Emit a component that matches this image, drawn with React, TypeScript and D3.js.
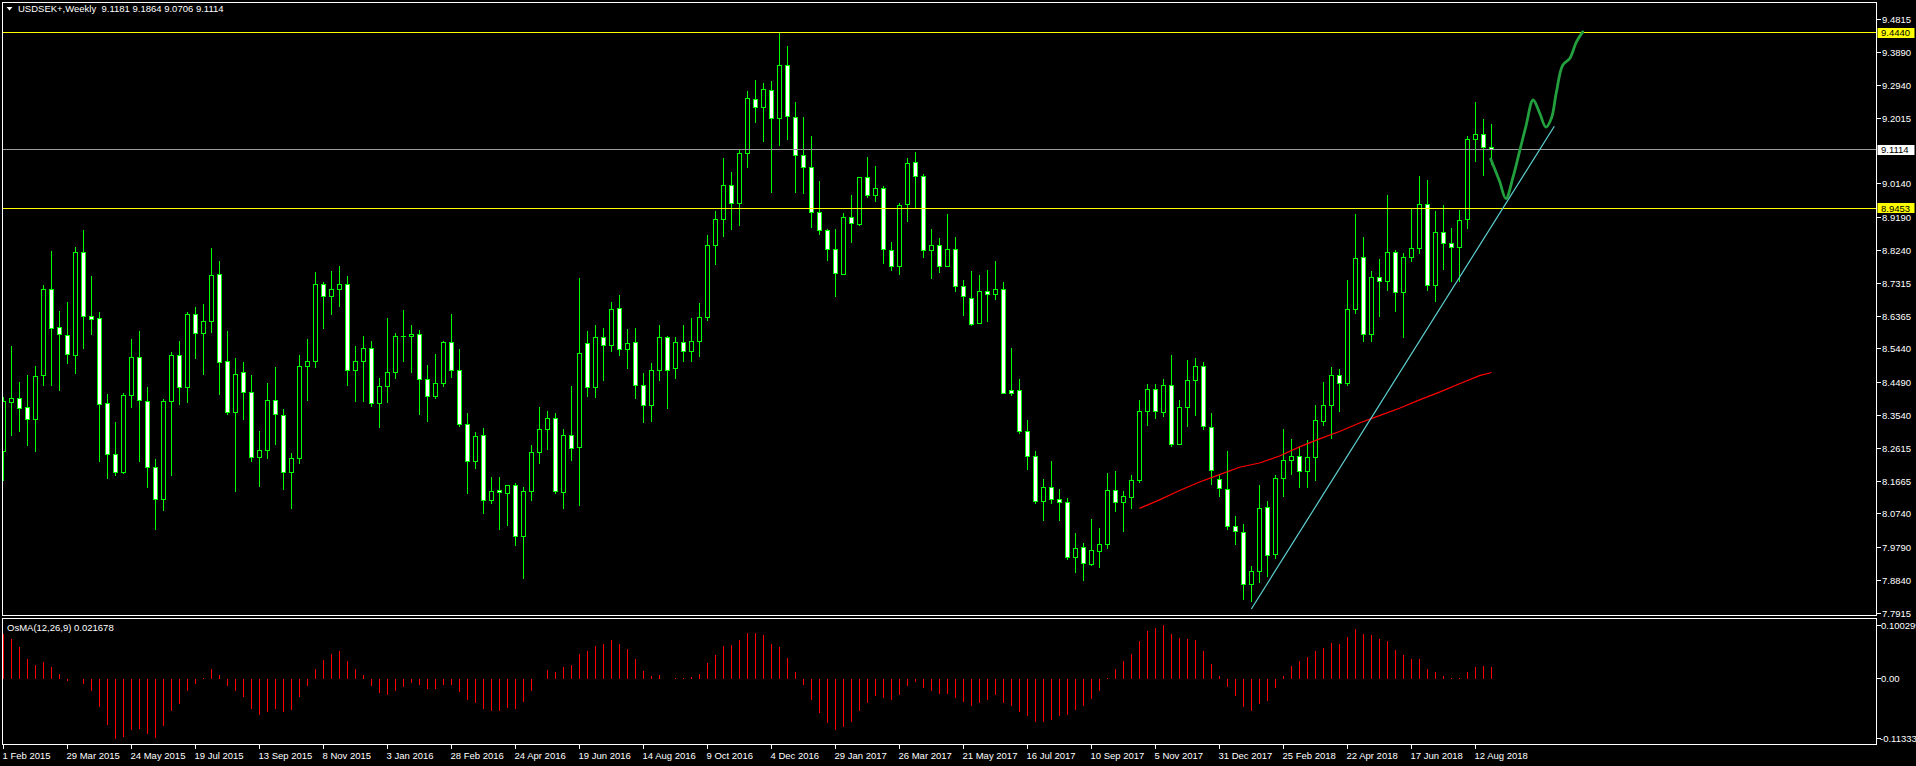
import React, { useEffect } from "react";
import * as d3 from "d3";

const titleText = "USDSEK+,Weekly  9.1181 9.1864 9.0706 9.1114";
const osmaTitle = "OsMA(12,26,9) 0.021678";

const dateLabels = [
  "1 Feb 2015", "29 Mar 2015", "24 May 2015", "19 Jul 2015", "13 Sep 2015", "8 Nov 2015",
  "3 Jan 2016", "28 Feb 2016", "24 Apr 2016", "19 Jun 2016", "14 Aug 2016", "9 Oct 2016",
  "4 Dec 2016", "29 Jan 2017", "26 Mar 2017", "21 May 2017", "16 Jul 2017", "10 Sep 2017",
  "5 Nov 2017", "31 Dec 2017", "25 Feb 2018", "22 Apr 2018", "17 Jun 2018", "12 Aug 2018",
];

const priceTicks = [
  9.4815, 9.389, 9.294, 9.2015, 9.014, 8.919, 8.824, 8.7315, 8.6365, 8.544,
  8.449, 8.354, 8.2615, 8.1665, 8.074, 7.979, 7.884, 7.7915,
];

const osmaTicks = [0.100299, 0, -0.11333];
const osmaTickText = ["0.100299", "0.00", "-0.11333"];

const yellowLevels = [9.444, 8.9453];
const bidLevel = 9.1114;

const opens = [
  8.253, 8.392, 8.403, 8.378, 8.344, 8.467, 8.713, 8.605, 8.583, 8.525,
  8.819, 8.636, 8.632, 8.390, 8.243, 8.193, 8.411, 8.520, 8.394, 8.205,
  8.114, 8.393, 8.526, 8.435, 8.641, 8.589, 8.622, 8.756, 8.507, 8.363,
  8.476, 8.421, 8.236, 8.255, 8.398, 8.355, 8.191, 8.233, 8.495, 8.507,
  8.728, 8.694, 8.713, 8.728, 8.483, 8.509, 8.545, 8.390, 8.438, 8.477,
  8.580, 8.579, 8.585, 8.458, 8.409, 8.446, 8.563, 8.483, 8.330, 8.224,
  8.298, 8.112, 8.140, 8.133, 8.156, 8.011, 8.139, 8.249, 8.315, 8.346,
  8.136, 8.298, 8.264, 8.560, 8.435, 8.576, 8.555, 8.659, 8.543, 8.562,
  8.440, 8.383, 8.483, 8.576, 8.488, 8.562, 8.538, 8.566, 8.634, 8.839,
  8.913, 9.009, 8.959, 9.102, 9.255, 9.232, 9.280, 9.199, 9.352, 9.203,
  9.096, 9.061, 8.933, 8.882, 8.827, 8.756, 8.918, 8.899, 9.032, 8.982,
  9.001, 8.823, 8.780, 8.954, 9.075, 9.036, 8.825, 8.839, 8.780, 8.827,
  8.723, 8.689, 8.616, 8.708, 8.699, 8.713, 8.426, 8.426, 8.309, 8.238,
  8.109, 8.150, 8.115, 8.107, 7.950, 7.978, 7.931, 7.967, 7.987, 8.141,
  8.107, 8.121, 8.170, 8.366, 8.429, 8.364, 8.440, 8.272, 8.378, 8.454,
  8.494, 8.321, 8.173, 8.144, 8.038, 8.022, 7.872, 7.910, 8.092, 7.958,
  8.175, 8.227, 8.239, 8.195, 8.235, 8.338, 8.383, 8.467, 8.446, 8.657,
  8.804, 8.585, 8.748, 8.735, 8.819, 8.706, 8.804, 8.831, 8.955, 8.725,
  8.876, 8.845, 8.833, 8.912, 9.141, 9.155, 9.1181,
];

const highs = [
  8.408, 8.553, 8.450, 8.471, 8.497, 8.728, 8.825, 8.654, 8.678, 8.837,
  8.883, 8.754, 8.651, 8.417, 8.336, 8.421, 8.575, 8.596, 8.438, 8.231,
  8.404, 8.537, 8.569, 8.651, 8.665, 8.672, 8.834, 8.797, 8.596, 8.520,
  8.507, 8.470, 8.313, 8.447, 8.493, 8.373, 8.249, 8.527, 8.575, 8.764,
  8.737, 8.766, 8.783, 8.752, 8.555, 8.581, 8.569, 8.464, 8.633, 8.591,
  8.656, 8.615, 8.598, 8.501, 8.532, 8.567, 8.646, 8.544, 8.364, 8.310,
  8.319, 8.180, 8.182, 8.159, 8.163, 8.153, 8.271, 8.381, 8.370, 8.364,
  8.316, 8.441, 8.747, 8.596, 8.615, 8.604, 8.678, 8.698, 8.601, 8.604,
  8.478, 8.505, 8.615, 8.581, 8.579, 8.615, 8.633, 8.675, 8.871, 8.937,
  9.088, 9.048, 9.116, 9.281, 9.310, 9.302, 9.308, 9.447, 9.407, 9.248,
  9.205, 9.152, 9.025, 8.888, 8.886, 8.933, 8.985, 9.033, 9.091, 9.066,
  9.010, 8.851, 8.962, 9.088, 9.105, 9.045, 8.886, 8.861, 8.931, 8.865,
  8.741, 8.766, 8.755, 8.770, 8.797, 8.735, 8.547, 8.459, 8.342, 8.256,
  8.174, 8.225, 8.147, 8.122, 8.020, 7.992, 8.062, 8.035, 8.191, 8.197,
  8.140, 8.185, 8.399, 8.445, 8.445, 8.459, 8.527, 8.399, 8.515, 8.520,
  8.509, 8.362, 8.187, 8.254, 8.071, 8.048, 7.926, 8.157, 8.112, 8.186,
  8.316, 8.290, 8.267, 8.285, 8.385, 8.450, 8.495, 8.487, 8.741, 8.931,
  8.863, 8.766, 8.803, 8.985, 8.828, 8.819, 8.948, 9.037, 9.027, 8.937,
  8.954, 8.891, 8.940, 9.152, 9.248, 9.199, 9.1864,
];

const lows = [
  8.168, 8.297, 8.309, 8.270, 8.253, 8.441, 8.441, 8.426, 8.502, 8.475,
  8.545, 8.585, 8.223, 8.174, 8.183, 8.189, 8.378, 8.222, 8.150, 8.031,
  8.084, 8.183, 8.387, 8.392, 8.517, 8.471, 8.591, 8.414, 8.356, 8.138,
  8.342, 8.223, 8.151, 8.231, 8.272, 8.144, 8.090, 8.219, 8.397, 8.491,
  8.602, 8.641, 8.665, 8.440, 8.393, 8.393, 8.380, 8.320, 8.392, 8.460,
  8.507, 8.478, 8.357, 8.336, 8.404, 8.438, 8.463, 8.324, 8.132, 8.204,
  8.076, 8.103, 8.030, 8.040, 7.984, 7.890, 8.112, 8.218, 8.258, 8.133,
  8.090, 8.226, 8.098, 8.409, 8.405, 8.454, 8.537, 8.525, 8.488, 8.403,
  8.334, 8.337, 8.454, 8.374, 8.461, 8.507, 8.508, 8.523, 8.624, 8.784,
  8.864, 8.885, 8.895, 9.061, 9.189, 9.135, 8.989, 9.123, 9.140, 8.989,
  8.986, 8.889, 8.871, 8.795, 8.693, 8.756, 8.847, 8.896, 8.976, 8.964,
  8.786, 8.767, 8.756, 8.907, 8.943, 8.804, 8.744, 8.761, 8.780, 8.707,
  8.639, 8.612, 8.616, 8.621, 8.684, 8.418, 8.411, 8.303, 8.200, 8.104,
  8.054, 8.103, 8.054, 7.944, 7.908, 7.884, 7.926, 7.922, 7.977, 8.082,
  8.023, 8.090, 8.163, 8.326, 8.346, 8.351, 8.267, 8.272, 8.324, 8.355,
  8.315, 8.159, 8.123, 8.030, 7.987, 7.831, 7.824, 7.878, 7.896, 7.948,
  8.123, 8.186, 8.150, 8.150, 8.169, 8.327, 8.290, 8.366, 8.440, 8.645,
  8.565, 8.565, 8.636, 8.711, 8.651, 8.577, 8.792, 8.816, 8.711, 8.680,
  8.771, 8.736, 8.735, 8.887, 9.077, 9.038, 9.0706,
];

const closes = [
  8.393, 8.403, 8.375, 8.344, 8.466, 8.713, 8.601, 8.585, 8.527, 8.819,
  8.636, 8.629, 8.387, 8.243, 8.193, 8.412, 8.520, 8.396, 8.205, 8.114,
  8.393, 8.526, 8.435, 8.641, 8.589, 8.622, 8.754, 8.505, 8.363, 8.472,
  8.421, 8.236, 8.255, 8.398, 8.356, 8.191, 8.233, 8.494, 8.507, 8.728,
  8.694, 8.713, 8.728, 8.483, 8.509, 8.545, 8.390, 8.438, 8.477, 8.580,
  8.580, 8.585, 8.457, 8.409, 8.446, 8.563, 8.483, 8.330, 8.224, 8.295,
  8.112, 8.139, 8.134, 8.156, 8.011, 8.139, 8.249, 8.315, 8.346, 8.139,
  8.298, 8.261, 8.531, 8.433, 8.576, 8.555, 8.657, 8.543, 8.560, 8.441,
  8.383, 8.483, 8.576, 8.483, 8.562, 8.538, 8.566, 8.634, 8.839, 8.913,
  9.009, 8.959, 9.102, 9.257, 9.232, 9.284, 9.199, 9.352, 9.205, 9.096,
  9.062, 8.934, 8.882, 8.828, 8.760, 8.918, 8.900, 9.032, 8.980, 9.001,
  8.826, 8.780, 8.953, 9.073, 9.036, 8.825, 8.839, 8.780, 8.827, 8.723,
  8.692, 8.615, 8.708, 8.700, 8.712, 8.418, 8.418, 8.309, 8.237, 8.109,
  8.150, 8.116, 8.108, 7.950, 7.977, 7.932, 7.970, 7.988, 8.141, 8.107,
  8.125, 8.170, 8.367, 8.429, 8.366, 8.440, 8.272, 8.378, 8.454, 8.494,
  8.324, 8.199, 8.147, 8.037, 8.023, 7.872, 7.910, 8.090, 7.956, 8.175,
  8.227, 8.239, 8.195, 8.236, 8.339, 8.383, 8.469, 8.446, 8.657, 8.803,
  8.585, 8.748, 8.737, 8.819, 8.706, 8.804, 8.831, 8.955, 8.726, 8.876,
  8.845, 8.834, 8.910, 9.141, 9.155, 9.118, 9.1114,
];

const osma = [
  0.0847, 0.0753, 0.0603, 0.0370, 0.0264, 0.0314, 0.0220, 0.0088, -0.0050, -0.0010,
  -0.0094, -0.0232, -0.0534, -0.0866, -0.1130, -0.1092, -0.0960, -0.0942, -0.1036, -0.1117,
  -0.0885, -0.0609, -0.0471, -0.0232, -0.0094, 0.0013, 0.0182, 0.0069, -0.0132, -0.0232,
  -0.0345, -0.0571, -0.0678, -0.0621, -0.0571, -0.0621, -0.0590, -0.0345, -0.0132, 0.0182,
  0.0352, 0.0465, 0.0521, 0.0333, 0.0182, 0.0069, -0.0132, -0.0270, -0.0308, -0.0232,
  -0.0157, -0.0088, -0.0113, -0.0195, -0.0188, -0.0113, -0.0113, -0.0257, -0.0402, -0.0452,
  -0.0571, -0.0609, -0.0609, -0.0552, -0.0571, -0.0439, -0.0239, -0.0006, 0.0157, 0.0126,
  0.0220, 0.0257, 0.0465, 0.0521, 0.0615, 0.0653, 0.0728, 0.0653, 0.0565, 0.0370,
  0.0144, 0.0050, 0.0069, 0.0003, 0.0013, 0.0013, 0.0031, 0.0088, 0.0295, 0.0446,
  0.0621, 0.0634, 0.0728, 0.0860, 0.0860, 0.0822, 0.0653, 0.0596, 0.0389, 0.0126,
  -0.0113, -0.0402, -0.0647, -0.0835, -0.0967, -0.0910, -0.0816, -0.0609, -0.0458, -0.0326,
  -0.0364, -0.0402, -0.0308, -0.0132, -0.0063, -0.0176, -0.0232, -0.0282, -0.0289, -0.0364,
  -0.0439, -0.0515, -0.0458, -0.0402, -0.0308, -0.0458, -0.0515, -0.0628, -0.0703, -0.0816,
  -0.0816, -0.0778, -0.0703, -0.0684, -0.0590, -0.0515, -0.0383, -0.0232, 0.0013, 0.0182,
  0.0333, 0.0465, 0.0709, 0.0898, 0.0954, 0.1003, 0.0841, 0.0766, 0.0747, 0.0728,
  0.0521, 0.0276, 0.0050, -0.0157, -0.0326, -0.0534, -0.0609, -0.0477, -0.0421, -0.0176,
  0.0050, 0.0239, 0.0333, 0.0408, 0.0521, 0.0578, 0.0672, 0.0653, 0.0785, 0.0935,
  0.0841, 0.0822, 0.0747, 0.0709, 0.0540, 0.0446, 0.0370, 0.0370, 0.0182, 0.0126,
  0.0050, 0.0013, 0.0013, 0.0126, 0.0220, 0.0239, 0.021678,
];

// red moving-average-like line (bar index, price)
const maBars = [142, 144.5, 147, 149.5, 152, 154.5, 157, 159.5, 162, 164.5, 167, 169.5, 172, 174.5, 177, 179.5, 182, 184.5, 186];
const maValues = [8.09, 8.114, 8.141, 8.165, 8.186, 8.207, 8.219, 8.239, 8.265, 8.288, 8.309, 8.333, 8.354, 8.375, 8.399, 8.421, 8.445, 8.468, 8.477];

// cyan trend line
const trendBars = [155.98, 193.85];
const trendValues = [7.8034, 9.1782];

// green hand-drawn projection
const projBars = [185.9, 187.0, 187.8, 188.7, 189.5, 190.3, 191.2, 192.0, 192.8, 193.5, 194.1, 194.9, 195.8, 196.6, 197.4];
const projValues = [9.085, 9.022, 8.972, 9.034, 9.106, 9.178, 9.253, 9.217, 9.176, 9.202, 9.274, 9.352, 9.372, 9.418, 9.447];

const FONT = "'Liberation Sans', Arial, sans-serif";

export default function App() {
  useEffect(() => {
    document.body.style.margin = "0";
    document.body.style.background = "#000";
  }, []);

  const W = 1916;
  const H = 766;
  const left = 2.5;
  const right = 1876.5;
  const mainTop = 2.5;
  const mainBottom = 615.5;
  const osTop = 618.5;
  const osBottom = 744.5;

  const x = d3.scaleLinear().domain([0, 186]).range([3.5, 3.5 + 8 * 186]);
  const y = d3.scaleLinear().domain([7.7915, 9.4815]).range([613.14, 19.78]);
  const yo = d3.scaleLinear().domain([-0.11333, 0.100299]).range([738.9, 625.4]);
  const snap = (v: number) => Math.round(v - 0.5) + 0.5;

  const lineGen = d3
    .line<number>()
    .x((_, i) => 0)
    .y(() => 0);

  const maPath = d3.line<number>().x((d) => x(d)).y((_, i) => y(maValues[i]))(maBars) || "";
  const trendPath = d3.line<number>().x((d) => x(d)).y((_, i) => y(trendValues[i]))(trendBars) || "";
  const projPath =
    d3
      .line<number>()
      .x((d) => x(d))
      .y((_, i) => y(projValues[i]))
      .curve(d3.curveCatmullRom.alpha(0.5))(projBars) || "";
  void lineGen;

  const candles = opens.map((o, i) => {
    const c = closes[i];
    const h = highs[i];
    const l = lows[i];
    const cx = x(i);
    const yH = snap(y(h));
    const yL = snap(y(l));
    const yO = snap(y(o));
    const yC = snap(y(c));
    const bull = c >= o;
    const top = Math.min(yO, yC);
    const bh = Math.abs(yO - yC);
    return (
      <g key={i}>
        <line x1={cx} x2={cx} y1={yH} y2={yL} stroke="#00ff00" strokeWidth={1} />
        {bh < 1 ? (
          <line x1={cx - 2.5} x2={cx + 2.5} y1={top} y2={top} stroke="#00ff00" strokeWidth={1} />
        ) : (
          <rect
            x={cx - 2}
            y={top}
            width={4}
            height={bh}
            fill={bull ? "#000000" : "#ffffff"}
            stroke="#00ff00"
            strokeWidth={1}
          />
        )}
      </g>
    );
  });

  const zeroY = yo(0);
  const osBars = osma.map((v, i) => (
    <line key={i} x1={x(i)} x2={x(i)} y1={zeroY} y2={yo(v)} stroke="#ff0000" strokeWidth={1} />
  ));

  const labelBox = (p: number, bg: string, key: string) => {
    const cy = y(p);
    return (
      <g key={key}>
        <rect x={1877.5} y={Math.round(cy) - 5} width={37} height={10} fill={bg} />
        <text x={1881} y={cy + 3.5} fontSize={9.5} fontFamily={FONT} fill="#000">
          {p.toFixed(4)}
        </text>
      </g>
    );
  };

  return (
    <svg
      width={W}
      height={H}
      viewBox={`0 0 ${W} ${H}`}
      style={{ position: "absolute", left: 0, top: 0, display: "block", background: "#000" }}
    >
      <defs>
        <clipPath id="mainClip">
          <rect x={3} y={3} width={right - 3} height={mainBottom - 3} />
        </clipPath>
        <clipPath id="osClip">
          <rect x={3} y={osTop + 0.5} width={right - 3} height={osBottom - osTop - 1} />
        </clipPath>
      </defs>
      <rect x={0} y={0} width={W} height={H} fill="#000" />

      {/* main panel */}
      <g clipPath="url(#mainClip)" shapeRendering="crispEdges">
        {candles}
      </g>
      <g clipPath="url(#mainClip)">
        {yellowLevels.map((p, i) => (
          <line key={i} x1={left} x2={right} y1={snap(y(p))} y2={snap(y(p))} stroke="#ffff00" strokeWidth={1} shapeRendering="crispEdges" />
        ))}
        <line x1={left} x2={right} y1={snap(y(bidLevel))} y2={snap(y(bidLevel))} stroke="#9a9a9a" strokeWidth={1} shapeRendering="crispEdges" />
        <path d={maPath} fill="none" stroke="#ff0000" strokeWidth={1.2} />
        <path d={trendPath} fill="none" stroke="#5fd0d0" strokeWidth={1.2} />
        <path d={projPath} fill="none" stroke="#23a03d" strokeWidth={2.8} strokeLinecap="round" strokeLinejoin="round" />
      </g>

      {/* osma */}
      <g clipPath="url(#osClip)" shapeRendering="crispEdges">
        {osBars}
      </g>

      {/* frames */}
      <g fill="none" stroke="#ffffff" strokeWidth={1} shapeRendering="crispEdges">
        <rect x={left} y={mainTop} width={right - left} height={mainBottom - mainTop} />
        <rect x={left} y={osTop} width={right - left} height={osBottom - osTop} />
      </g>

      {/* price axis */}
      <g shapeRendering="crispEdges">
        {priceTicks.map((p, i) => (
          <line key={i} x1={right} x2={right + 4} y1={snap(y(p))} y2={snap(y(p))} stroke="#fff" />
        ))}
        {osmaTicks.map((v, i) => (
          <line key={i} x1={right} x2={right + 4} y1={snap(yo(v))} y2={snap(yo(v))} stroke="#fff" />
        ))}
      </g>
      {priceTicks.map((p, i) => (
        <text key={i} x={1882} y={y(p) + 3.5} fontSize={9.5} fontFamily={FONT} fill="#ffffff">
          {p.toFixed(4)}
        </text>
      ))}
      {labelBox(yellowLevels[0], "#ffff00", "l1")}
      {labelBox(bidLevel, "#ffffff", "l2")}
      {labelBox(yellowLevels[1], "#ffff00", "l3")}
      {osmaTicks.map((v, i) => (
        <text key={i} x={v < 0 ? 1880 : 1881} y={yo(v) + 3.5} fontSize={9.5} fontFamily={FONT} fill="#ffffff">
          {osmaTickText[i]}
        </text>
      ))}

      {/* date axis */}
      <g shapeRendering="crispEdges">
        {dateLabels.map((_, k) => (
          <line key={k} x1={x(k * 8)} x2={x(k * 8)} y1={osBottom} y2={osBottom + 4} stroke="#fff" />
        ))}
      </g>
      {dateLabels.map((d, k) => (
        <text key={k} x={x(k * 8) - 1} y={758.5} fontSize={9.5} fontFamily={FONT} fill="#ffffff">
          {d}
        </text>
      ))}

      {/* titles */}
      <path d="M6.5,7 L12.5,7 L9.5,10.5 Z" fill="#ffffff" />
      <text x={18} y={11.8} fontSize={9.5} fontFamily={FONT} fill="#ffffff" style={{ whiteSpace: "pre" }}>
        {titleText}
      </text>
      <text x={7} y={630.5} fontSize={9.5} fontFamily={FONT} fill="#ffffff">
        {osmaTitle}
      </text>
    </svg>
  );
}
